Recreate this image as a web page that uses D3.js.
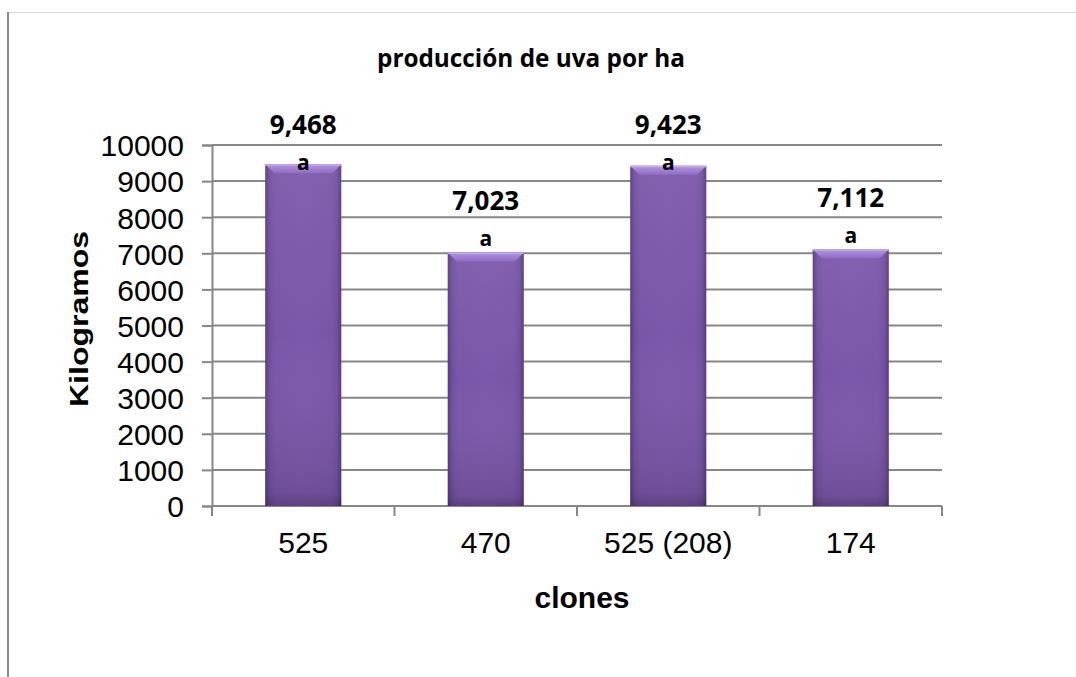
<!DOCTYPE html>
<html>
<head>
<meta charset="utf-8">
<script src="https://cdn.jsdelivr.net/npm/d3@7"></script>
<style>
  html, body { margin: 0; padding: 0; background: #fff; }
  svg { display: block; }
</style>
</head>
<body>
<svg id="chart" width="1076" height="677"></svg>
<script>
const categories = ["525", "470", "525 (208)", "174"];
const values = [9468, 7023, 9423, 7112];
const letters = ["a", "a", "a", "a"];
const yTicks = [0, 1000, 2000, 3000, 4000, 5000, 6000, 7000, 8000, 9000, 10000];
const title = "producción de uva por ha";
const xTitle = "clones";
const yTitle = "Kilogramos";

const svg = d3.select("#chart");
const W = 1076, H = 677;
const plot = { left: 212, right: 942, top: 145, bottom: 506 };

// frame lines
svg.append("line").attr("x1", 8).attr("x2", W).attr("y1", 12.5).attr("y2", 12.5)
  .attr("stroke", "#d9d9d9").attr("stroke-width", 1.2);
svg.append("line").attr("x1", 8).attr("x2", 8).attr("y1", 12).attr("y2", H)
  .attr("stroke", "#8c8c8c").attr("stroke-width", 2);

const x = d3.scaleBand().domain(categories).range([plot.left, plot.right])
  .paddingInner(0.583).paddingOuter(0.2915);
const xb = d3.scaleBand().domain(categories).range([plot.left, plot.right]).padding(0);
const y = d3.scaleLinear().domain([0, 10000]).range([plot.bottom, plot.top]);

const defs = svg.append("defs");
const gh = defs.append("linearGradient").attr("id", "gh").attr("x1", "0").attr("x2", "1").attr("y1", "0").attr("y2", "0");
[["0%", "#58397f"], ["6%", "#70509e"], ["14%", "#7a56a9"], ["50%", "#7c57ab"], ["86%", "#7a56a9"], ["94%", "#70509e"], ["100%", "#58397f"]]
  .forEach(([o, c]) => gh.append("stop").attr("offset", o).attr("stop-color", c));
const gv = defs.append("linearGradient").attr("id", "gv").attr("x1", "0").attr("x2", "0").attr("y1", "0").attr("y2", "1");
[["0%", "#ffffff", 0.06], ["50%", "#ffffff", 0.0], ["96%", "#000000", 0.1], ["100%", "#000000", 0.25]]
  .forEach(([o, c, a]) => gv.append("stop").attr("offset", o).attr("stop-color", c).attr("stop-opacity", a));
const gt = defs.append("linearGradient").attr("id", "gt").attr("x1", "0").attr("x2", "0").attr("y1", "0").attr("y2", "1");
[["0%", "#b397e0"], ["100%", "#8e6cc4"]]
  .forEach(([o, c]) => gt.append("stop").attr("offset", o).attr("stop-color", c));

// gridlines
const grid = svg.append("g");
grid.selectAll("line").data(yTicks).join("line")
  .attr("x1", plot.left).attr("x2", plot.right)
  .attr("y1", d => y(d)).attr("y2", d => y(d))
  .attr("stroke", "#878787").attr("stroke-width", 2);

// y axis
const yAxis = svg.append("g").attr("transform", `translate(${plot.left},0)`)
  .call(d3.axisLeft(y).tickValues(yTicks).tickSize(10).tickPadding(18).tickFormat(d3.format("d")));
yAxis.select(".domain").attr("stroke", "#878787").attr("stroke-width", 2);
yAxis.selectAll(".tick line").attr("stroke", "#878787").attr("stroke-width", 2);
yAxis.selectAll(".tick text").attr("font-family", "Liberation Sans, Arial, sans-serif")
  .attr("font-size", 30).attr("fill", "#000").attr("dy", "0.36em");

// x axis
const xAxisG = svg.append("g").attr("transform", `translate(0,${plot.bottom})`);
xAxisG.append("line").attr("x1", plot.left).attr("x2", plot.right).attr("y1", 0).attr("y2", 0)
  .attr("stroke", "#878787").attr("stroke-width", 2);
const bounds = categories.map(c => xb(c)).concat([xb(categories[categories.length - 1]) + xb.bandwidth()]);
xAxisG.selectAll("line.tk").data(bounds).join("line").attr("class", "tk")
  .attr("x1", d => d).attr("x2", d => d).attr("y1", 0).attr("y2", 10)
  .attr("stroke", "#878787").attr("stroke-width", 2);
xAxisG.selectAll("text").data(categories).join("text")
  .attr("x", d => xb(d) + xb.bandwidth() / 2).attr("y", 47)
  .attr("text-anchor", "middle")
  .attr("font-family", "Liberation Sans, Arial, sans-serif").attr("font-size", 30).attr("fill", "#000")
  .text(d => d);

// bars
const bars = svg.append("g");
const data = categories.map((c, i) => ({ c, v: values[i], l: letters[i] }));
const bg = bars.selectAll("g").data(data).join("g");
bg.append("rect")
  .attr("x", d => x(d.c)).attr("width", x.bandwidth())
  .attr("y", d => y(d.v)).attr("height", d => y(0) - y(d.v))
  .attr("fill", "url(#gh)");
bg.append("rect")
  .attr("x", d => x(d.c)).attr("width", x.bandwidth())
  .attr("y", d => y(d.v)).attr("height", d => y(0) - y(d.v))
  .attr("fill", "url(#gv)");
// top bevel
bg.append("polygon")
  .attr("points", d => {
    const x0 = x(d.c), x1 = x0 + x.bandwidth(), t = y(d.v), b = 9;
    return `${x0},${t} ${x1},${t} ${x1 - b},${t + b} ${x0 + b},${t + b}`;
  })
  .attr("fill", "url(#gt)");
bg.append("rect")
  .attr("x", d => x(d.c)).attr("width", x.bandwidth())
  .attr("y", d => y(d.v)).attr("height", 1.5).attr("fill", "#c3a9ee");

// labels
const font2 = "Open Sans, Noto Sans, sans-serif";
const letterBase = d => Math.max(y(d.v) - 6, y(10000) + 25);
bg.append("text")
  .attr("x", d => x(d.c) + x.bandwidth() / 2).attr("y", d => letterBase(d))
  .attr("text-anchor", "middle").attr("font-family", font2).attr("font-weight", "bold")
  .attr("font-size", 21).attr("fill", "#000").text(d => d.l);
bg.append("text")
  .attr("x", d => x(d.c) + x.bandwidth() / 2).attr("y", d => letterBase(d) - 36)
  .attr("text-anchor", "middle").attr("font-family", font2).attr("font-weight", "bold")
  .attr("font-size", 26).attr("fill", "#000").text(d => d3.format(",")(d.v));

// titles
svg.append("text").attr("x", 531).attr("y", 67).attr("text-anchor", "middle")
  .attr("font-family", font2).attr("font-weight", "bold").attr("font-size", 25)
  .attr("textLength", 308).attr("lengthAdjust", "spacingAndGlyphs")
  .attr("fill", "#000").text(title);
svg.append("text").attr("x", 582).attr("y", 608).attr("text-anchor", "middle")
  .attr("font-family", "Liberation Sans, Arial, sans-serif").attr("font-weight", "bold").attr("font-size", 30)
  .attr("fill", "#000").text(xTitle);
svg.append("text").attr("transform", "translate(88,319) rotate(-90)").attr("text-anchor", "middle")
  .attr("font-family", "Liberation Sans, Arial, sans-serif").attr("font-weight", "bold").attr("font-size", 26)
  .attr("textLength", 176).attr("lengthAdjust", "spacingAndGlyphs")
  .attr("fill", "#000").text(yTitle);
</script>
</body>
</html>
